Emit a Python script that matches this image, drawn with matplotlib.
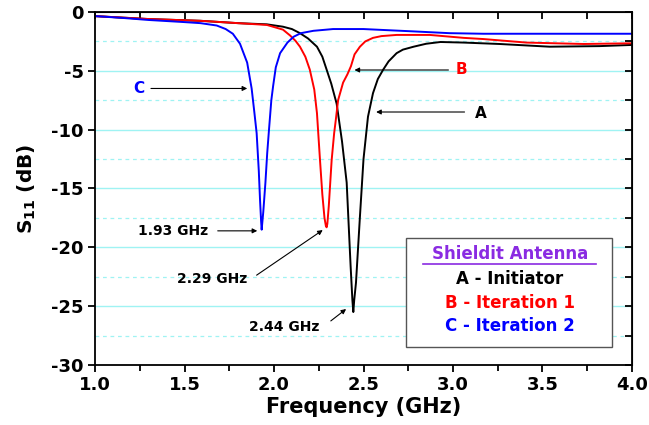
import numpy as np
import matplotlib.pyplot as plt
from matplotlib.ticker import MultipleLocator

plt.rcParams['font.family'] = ['DejaVu Sans']
plt.rcParams['font.weight'] = 'bold'
plt.rcParams['mathtext.fontset'] = 'custom'
plt.rcParams['mathtext.rm'] = 'DejaVu Sans:bold'
plt.rcParams['mathtext.bf'] = 'DejaVu Sans:bold'

# A - Initiator (black)
freq_a = [1.00, 1.30, 1.59, 1.80, 1.96, 2.05, 2.10, 2.145, 2.19, 2.24, 2.27, 2.294, 2.32,
          2.35, 2.38, 2.406, 2.428, 2.438, 2.443, 2.448, 2.458, 2.48, 2.50, 2.525, 2.553,
          2.58, 2.61, 2.64, 2.685, 2.72, 2.78, 2.85, 2.93, 3.06, 3.26, 3.54, 3.82, 4.00]
s11_a = [-0.35, -0.6, -0.75, -0.95, -1.05, -1.25, -1.45, -1.8, -2.25, -2.95, -3.8, -4.9, -6.1,
         -7.8, -11.0, -14.5, -21.6, -24.5, -25.5, -24.5, -23.0, -17.4, -12.5, -8.9, -6.9,
         -5.7, -4.9, -4.2, -3.5, -3.2, -2.95, -2.7, -2.55, -2.6, -2.72, -2.95, -2.9, -2.8]

# B - Iteration 1 (red)
freq_b = [1.00, 1.30, 1.59, 1.80, 1.96, 2.05, 2.09, 2.12, 2.145, 2.175, 2.20, 2.225, 2.24,
          2.257, 2.270, 2.282, 2.290, 2.294, 2.298, 2.306, 2.322, 2.336, 2.345, 2.358, 2.386,
          2.41, 2.43, 2.45, 2.48, 2.51, 2.553, 2.60, 2.685, 2.87, 3.06, 3.17, 3.41, 3.73, 4.00]
s11_b = [-0.35, -0.6, -0.75, -0.95, -1.1, -1.5, -2.0, -2.45, -2.95, -3.8, -4.9, -6.6, -8.6,
         -12.6, -15.5, -17.5, -18.2, -18.3, -18.0, -16.5, -12.6, -10.3, -9.2, -7.5, -6.0,
         -5.3, -4.6, -3.6, -2.95, -2.5, -2.2, -2.05, -1.95, -1.95, -2.2, -2.3, -2.6, -2.72, -2.66]

# C - Iteration 2 (blue)
freq_c = [1.00, 1.15, 1.30, 1.49, 1.59, 1.68, 1.73, 1.77, 1.81, 1.85, 1.875, 1.89,
          1.903, 1.915, 1.922, 1.928, 1.931, 1.934, 1.940, 1.952, 1.962, 1.972, 1.985,
          1.995, 2.01, 2.034, 2.075, 2.11, 2.15, 2.22, 2.33, 2.50, 2.78, 2.98, 3.17,
          3.45, 3.70, 4.00]
s11_c = [-0.35, -0.5, -0.68, -0.85, -0.95, -1.15, -1.45, -1.85, -2.7, -4.3, -6.5, -8.5,
         -10.3, -13.5, -16.0, -17.8, -18.5, -18.0, -17.0, -14.5, -12.0, -10.0, -7.5,
         -6.3, -4.7, -3.5, -2.6, -2.1, -1.8, -1.6, -1.45, -1.45, -1.65, -1.8, -1.85,
         -1.85, -1.85, -1.85]

legend_title = 'Shieldit Antenna'
legend_lines = ['A - Initiator', 'B - Iteration 1', 'C - Iteration 2']
curve_colors = ['black', 'red', 'blue']

fig = plt.figure(figsize=(6.49, 4.25), dpi=100)
ax = fig.add_axes([0.1464, 0.1412, 0.8274, 0.8306])

# grid lines: solid at major, dashed at minor
for y in np.arange(-25, 0, 5):
    ax.axhline(y, color='#9ff3f3', lw=1.0, zorder=0)
for y in np.arange(-27.5, 0, 5):
    ax.axhline(y, color='#9ff3f3', lw=0.9, ls=(0, (3, 3)), zorder=0)

ax.plot(freq_a, s11_a, color='black', lw=1.4)
ax.plot(freq_b, s11_b, color='red', lw=1.4)
ax.plot(freq_c, s11_c, color='blue', lw=1.4)

ax.set_xlim(1.0, 4.0)
ax.set_ylim(-30, 0)
ax.xaxis.set_major_locator(MultipleLocator(0.5))
ax.xaxis.set_minor_locator(MultipleLocator(0.25))
ax.yaxis.set_major_locator(MultipleLocator(5))
ax.yaxis.set_minor_locator(MultipleLocator(2.5))
ax.xaxis.set_major_formatter(lambda v, p: f'{v:.1f}')
ax.yaxis.set_major_formatter(lambda v, p: f'{v:.0f}')

ax.tick_params(which='both', bottom=True, left=True, direction='out', width=1.3)
ax.tick_params(which='major', length=5, labelsize=13, pad=3)
ax.tick_params(which='minor', length=4)
ax.tick_params(which='minor', axis='y', left=False)
for s in ax.spines.values():
    s.set_linewidth(1.3)

# inward ticks on top and right
axt = ax.secondary_xaxis('top')
axt.xaxis.set_major_locator(MultipleLocator(0.25))
axt.tick_params(direction='in', length=5, width=1.3, labeltop=False)
axr = ax.secondary_yaxis('right')
axr.yaxis.set_major_locator(MultipleLocator(2.5))
axr.tick_params(direction='in', length=5, width=1.3, labelright=False)

ax.set_xlabel('Frequency (GHz)', fontsize=15, fontweight='bold', labelpad=2)
ax.set_ylabel('S$_{11}$ (dB)', fontsize=14.5, fontweight='bold', labelpad=10)

arrow = dict(arrowstyle='-|>', color='black', lw=0.8, mutation_scale=7)

# curve labels
ax.annotate('', xy=(1.866, -6.5), xytext=(1.297, -6.5), arrowprops=arrow)
ax.text(1.246, -6.5, 'C', color='blue', fontsize=11, fontweight='bold', ha='center', va='center')
ax.annotate('', xy=(2.434, -4.93), xytext=(2.99, -4.93), arrowprops=arrow)
ax.text(3.045, -4.93, 'B', color='red', fontsize=11, fontweight='bold', ha='center', va='center')
ax.annotate('', xy=(2.555, -8.5), xytext=(3.08, -8.5), arrowprops=arrow)
ax.text(3.155, -8.6, 'A', color='black', fontsize=11, fontweight='bold', ha='center', va='center')

# resonance labels
ax.annotate('', xy=(1.922, -18.6), xytext=(1.67, -18.6), arrowprops=arrow)
ax.text(1.436, -18.65, '1.93 GHz', fontsize=10, fontweight='bold', ha='center', va='center')
ax.annotate('', xy=(2.285, -18.4), xytext=(1.89, -22.5), arrowprops=arrow)
ax.text(1.656, -22.7, '2.29 GHz', fontsize=10, fontweight='bold', ha='center', va='center')
ax.annotate('', xy=(2.415, -25.1), xytext=(2.305, -26.4), arrowprops=arrow)
ax.text(2.056, -26.8, '2.44 GHz', fontsize=10, fontweight='bold', ha='center', va='center')

# legend box
box = plt.Rectangle((2.737, -28.5), 1.151, 9.3, facecolor='white', edgecolor='#555555',
                    lw=1.0, zorder=3)
ax.add_patch(box)
ax.text(3.318, -20.6, legend_title, color='#8a2be2', fontsize=12, fontweight='bold',
        ha='center', va='center', zorder=4)
ax.plot([2.835, 3.80], [-21.4, -21.4], color='#8a2be2', lw=1.2, zorder=4)
for i, (txt, col) in enumerate(zip(legend_lines, curve_colors)):
    ax.text(3.318, -22.7 - 2.0 * i, txt, color=col, fontsize=12, fontweight='bold',
            ha='center', va='center', zorder=4)

fig.savefig('out.png', dpi=100)
